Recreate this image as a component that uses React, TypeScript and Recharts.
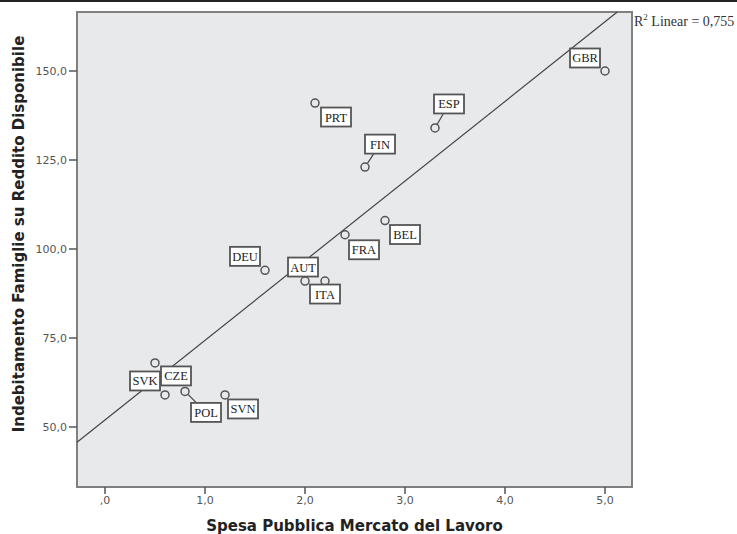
import { ScatterChart, Scatter, XAxis, YAxis, ReferenceArea, ReferenceLine, Label } from "recharts"

const countries = ["PRT", "FIN", "ESP", "GBR", "BEL", "FRA", "DEU", "AUT", "ITA", "SVK", "CZE", "POL", "SVN"]
const labourSpending = [2.1, 2.6, 3.3, 5.0, 2.8, 2.4, 1.6, 2.0, 2.2, 0.6, 0.5, 0.8, 1.2]
const householdDebt = [141, 123, 134, 150, 108, 104, 94, 91, 91, 59, 68, 60, 59]
const xTicks = [0, 1, 2, 3, 4, 5]
const yTicks = [50, 75, 100, 125, 150]
const rSquared = "0,755"

// where each label box sits relative to its point (px), and whether a leader line is drawn
const labelPlacement: Record<string, { dx: number; dy: number; lead?: boolean }> = {
  PRT: { dx: 21, dy: 14 },
  FIN: { dx: 15, dy: -23, lead: true },
  ESP: { dx: 14, dy: -24, lead: true },
  GBR: { dx: -20, dy: -13 },
  BEL: { dx: 20, dy: 14 },
  FRA: { dx: 19, dy: 15 },
  DEU: { dx: -20, dy: -14 },
  AUT: { dx: -2, dy: -14 },
  ITA: { dx: 0, dy: 13 },
  SVK: { dx: -20, dy: -14 },
  CZE: { dx: 21, dy: 13 },
  POL: { dx: 21, dy: 21, lead: true },
  SVN: { dx: 18, dy: 14 },
}

const data = countries.map((code, i) => ({ code, x: labourSpending[i], y: householdDebt[i] }))

// least squares fit
const n = data.length
const mx = data.reduce((s, d) => s + d.x, 0) / n
const my = data.reduce((s, d) => s + d.y, 0) / n
const slope =
  data.reduce((s, d) => s + (d.x - mx) * (d.y - my), 0) / data.reduce((s, d) => s + (d.x - mx) ** 2, 0)
const intercept = my - slope * mx

const xDomain = [-0.28, 5.27]
const yDomain = [33.15, 166.57]
const fitStart = { x: xDomain[0], y: intercept + slope * xDomain[0] }
const fitEnd = { x: (yDomain[1] - intercept) / slope, y: yDomain[1] }

const PLOT_BG = "#e8e9eb"
const fmt = (v: number) => (v === 0 ? ",0" : v.toFixed(1).replace(".", ","))

const PointWithLabel = (props: any) => {
  const { cx, cy, payload } = props
  const p = labelPlacement[payload.code]
  const bx = cx + p.dx
  const by = cy + p.dy
  const w = 30
  const h = 19
  return (
    <g>
      {p.lead && <line x1={cx} y1={cy} x2={bx} y2={by} stroke="#444" strokeWidth={1.2} />}
      <circle cx={cx} cy={cy} r={4} fill={PLOT_BG} stroke="#555" strokeWidth={1.5} />
      <rect x={bx - w / 2} y={by - h / 2} width={w} height={h} fill="#fff" stroke="#555" strokeWidth={1.8} />
      <text
        x={bx}
        y={by + 4.5}
        textAnchor="middle"
        fontFamily="'Liberation Serif', serif"
        fontSize={12.5}
        fill="#222"
      >
        {payload.code}
      </text>
    </g>
  )
}

const titleStyle = { fontFamily: "'DejaVu Sans', sans-serif", fontWeight: "bold", fontSize: 15, fill: "#222" }

export default function App() {
  return (
    <div style={{ position: "absolute", left: 0, top: 0, width: 737, height: 534, background: "#fff" }}>
      <div style={{ position: "absolute", left: 0, top: 0, width: 737, height: 2, background: "#222" }} />
      <ScatterChart width={737} height={534} margin={{ top: 12, right: 105, left: 0, bottom: 0 }}>
        <ReferenceArea
          x1={xDomain[0]}
          x2={xDomain[1]}
          y1={yDomain[0]}
          y2={yDomain[1]}
          fill={PLOT_BG}
          fillOpacity={1}
          stroke="#808080"
          strokeWidth={2}
        />
        <XAxis
          type="number"
          dataKey="x"
          domain={xDomain}
          ticks={xTicks}
          allowDataOverflow
          height={47}
          axisLine={false}
          tickLine={{ stroke: "#555", strokeWidth: 1.5 }}
          tickSize={7}
          tickFormatter={fmt}
          tick={{ fill: "#555", fontSize: 11, fontFamily: "'DejaVu Sans', sans-serif" }}
        >
          <Label value="Spesa Pubblica Mercato del Lavoro" position="insideBottom" offset={3} style={titleStyle} />
        </XAxis>
        <YAxis
          type="number"
          dataKey="y"
          domain={yDomain}
          ticks={yTicks}
          allowDataOverflow
          width={77}
          axisLine={false}
          tickLine={{ stroke: "#555", strokeWidth: 1.5 }}
          tickSize={8}
          tickMargin={2}
          tickFormatter={fmt}
          tick={{ fill: "#555", fontSize: 11, fontFamily: "'DejaVu Sans', sans-serif" }}
        >
          <Label
            content={() => (
              <text transform="translate(24,234) rotate(-90)" textAnchor="middle" style={titleStyle}>
                Indebitamento Famiglie su Reddito Disponibile
              </text>
            )}
          />
        </YAxis>
        <Scatter data={data} shape={PointWithLabel} isAnimationActive={false} />
        <ReferenceLine segment={[fitStart, fitEnd]} stroke="#444" strokeWidth={1.2} ifOverflow="visible" />
      </ScatterChart>
      <div
        style={{
          position: "absolute",
          left: 634,
          top: 13,
          fontFamily: "'Liberation Serif', serif",
          fontSize: 14,
          color: "#333",
          whiteSpace: "nowrap",
          lineHeight: "18px",
        }}
      >
        R<sup style={{ fontSize: 9, lineHeight: 0 }}>2</sup> Linear = {rSquared}
      </div>
    </div>
  )
}
